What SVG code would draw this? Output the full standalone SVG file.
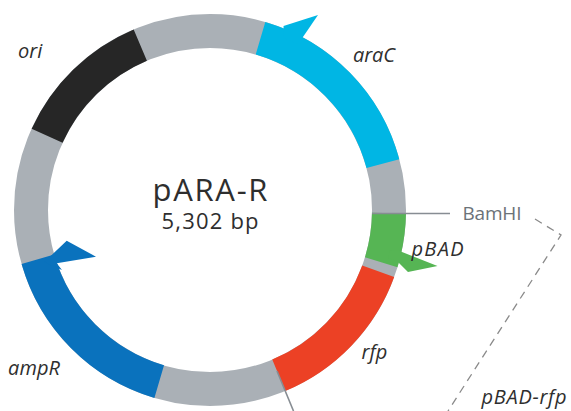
<svg xmlns="http://www.w3.org/2000/svg" width="571" height="411" viewBox="0 0 571 411">
<style>
.seg{fill:none;stroke-width:34;stroke-linecap:butt}
.lbl{font-family:"Open Sans","Noto Sans","Liberation Sans",sans-serif;font-style:italic;font-size:20px;fill:#2e2e2e}
.ttl{font-family:"Open Sans","Noto Sans","Liberation Sans",sans-serif;fill:#2e2e2e;text-anchor:middle}
.site{stroke:#878d93;stroke-width:1.6;fill:none}
.brk{stroke:#8a8a8a;stroke-width:1.3;fill:none;stroke-dasharray:8 6}
</style>
<rect width="571" height="411" fill="#fff"/>
<g id="backbone">
<circle cx="210" cy="210" r="179" class="seg" stroke="#aab0b6"/>
</g>
<g id="ori">
<path class="seg" stroke="#262626" d="M47.1 135.8 A179 179 0 0 1 140.3 45.1"/>
<text class="lbl" x="18" y="58">ori</text>
</g>
<g id="araC">
<path class="seg" stroke="#00b6e4" d="M260.5 38.3 A179 179 0 0 1 382.9 163.7"/>
<polygon fill="#00b6e4" points="283.5,26 318,15 305,34 298,44 284,38"/>
<text class="lbl" x="353" y="61.5" textLength="42" lengthAdjust="spacing">araC</text>
</g>
<g id="pBAD">
<path class="seg" stroke="#56b554" d="M389 213.1 A179 179 0 0 1 381.2 262.3"/>
<polygon fill="#56b554" points="399.5,251 437.5,266 408,272 397,261 388,258 390,250"/>
<text class="lbl" x="411.5" y="255.5" textLength="52" lengthAdjust="spacing">pBAD</text>
</g>
<g id="rfp">
<path class="seg" stroke="#ec4125" d="M378.2 271.2 A179 179 0 0 1 278.8 375.3"/>
<text class="lbl" x="361.5" y="358.5">rfp</text>
</g>
<g id="ampR">
<path class="seg" stroke="#0a72bd" d="M159.2 381.6 A179 179 0 0 1 37.9 259.3"/>
<polygon fill="#0a72bd" points="51.7,255 66.7,240.7 96,256.7 56.7,263.3 62,270 44,262"/>
<text class="lbl" x="8" y="375" textLength="52" lengthAdjust="spacing">ampR</text>
</g>
<g id="plasmid-title">
<text class="ttl" x="210" y="201" font-size="31" textLength="115" lengthAdjust="spacing">pARA-R</text>
<text class="ttl" x="210" y="228.5" font-size="22" textLength="97" lengthAdjust="spacing">5,302 bp</text>
</g>
<g id="BamHI">
<text x="462.5" y="220" font-family="Open Sans, Noto Sans, Liberation Sans, sans-serif" font-size="19" fill="#6b7278" textLength="59" lengthAdjust="spacing">BamHI</text>
</g>
<g id="pBAD-rfp">
<text class="lbl" x="481.5" y="403.5" textLength="85" lengthAdjust="spacing">pBAD-rfp</text>
</g>
<g id="connectors">
<line class="site" x1="372" y1="213.5" x2="450" y2="213.5"/>
<line class="site" x1="277" y1="371" x2="293.5" y2="411"/>
<polyline class="brk" points="535,219 561,235 448,411"/>
</g>
</svg>
